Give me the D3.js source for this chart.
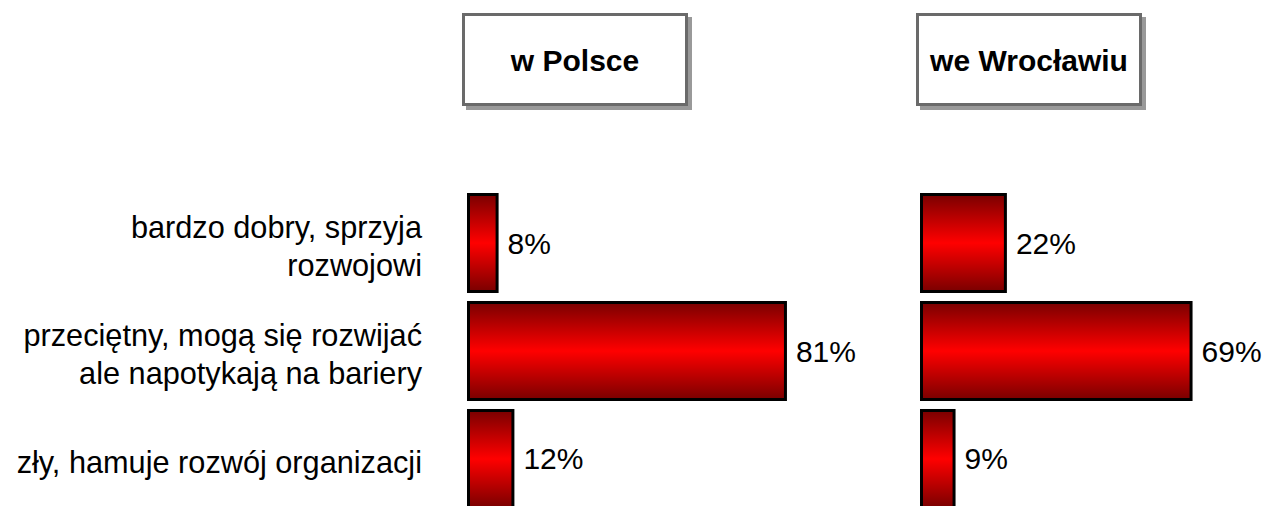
<!DOCTYPE html>
<html lang="pl">
<head>
<meta charset="utf-8">
<title>Klimat dla organizacji</title>
<script src="https://cdn.jsdelivr.net/npm/d3@7"></script>
<style>
  body { margin: 0; background: #fff; }
  text { font-family: "Liberation Sans", Arial, sans-serif; fill: #000; }
  .cat { font-size: 30.7px; text-anchor: end; }
  .val { font-size: 30px; }
  .title { font-size: 30px; font-weight: bold; text-anchor: middle; }
</style>
</head>
<body>
<script>
// dane
var categories = [
  ["bardzo dobry, sprzyja", "rozwojowi"],
  ["przeciętny, mogą się rozwijać", "ale napotykają na bariery"],
  ["zły, hamuje rozwój organizacji"]
];
var polskaValues = [8, 81, 12];
var wroclawValues = [22, 69, 9];
var panelTitles = ["w Polsce", "we Wrocławiu"];

var w = 1264, h = 506;

var svg = d3.select("body").append("svg")
  .attr("width", w)
  .attr("height", h);

var defs = svg.append("defs");
var grad = defs.append("linearGradient")
  .attr("id", "redGrad")
  .attr("x1", 0).attr("y1", 0).attr("x2", 0).attr("y2", 1);
grad.append("stop").attr("offset", "0%").attr("stop-color", "#7a0000");
grad.append("stop").attr("offset", "50%").attr("stop-color", "#ff0000");
grad.append("stop").attr("offset", "100%").attr("stop-color", "#7a0000");

var yScale = d3.scaleBand()
  .domain(d3.range(categories.length))
  .range([193, 509])
  .paddingInner(0.074);

var xScale = d3.scaleLinear()
  .domain([0, 100])
  .range([0, 395]);

// etykiety kategorii
var catG = svg.append("g");
categories.forEach(function(lines, i) {
  var cy = yScale(i) + yScale.bandwidth() / 2;
  var lh = 38;
  var t = catG.append("text")
    .attr("class", "cat")
    .attr("x", 422)
    .attr("y", cy - (lines.length - 1) * lh / 2 + 14);
  lines.forEach(function(l, j) {
    t.append("tspan")
      .attr("x", 422)
      .attr("dy", j === 0 ? 0 : lh)
      .text(l);
  });
});

var panels = [
  { title: panelTitles[0], data: polskaValues, x0: 467, box: 462 },
  { title: panelTitles[1], data: wroclawValues, x0: 920, box: 916 }
];

panels.forEach(function(p) {
  // ramka tytułu
  var bw = 226, bh = 93, by = 13;
  svg.append("rect")
    .attr("x", p.box + 4).attr("y", by + 4)
    .attr("width", bw).attr("height", bh)
    .attr("fill", "#999");
  svg.append("rect")
    .attr("x", p.box + 1.5).attr("y", by + 1.5)
    .attr("width", bw - 3).attr("height", bh - 3)
    .attr("fill", "#fff")
    .attr("stroke", "#6a6a6a")
    .attr("stroke-width", 3);
  svg.append("text")
    .attr("class", "title")
    .attr("x", p.box + bw / 2)
    .attr("y", 71)
    .text(p.title);

  var g = svg.append("g")
    .attr("transform", "translate(" + p.x0 + ",0)");

  g.selectAll("rect")
    .data(p.data)
    .enter()
    .append("rect")
    .attr("x", 1.5)
    .attr("y", function(d, i) { return yScale(i) + 1.5; })
    .attr("width", function(d) { return xScale(d) - 3; })
    .attr("height", yScale.bandwidth() - 3)
    .attr("fill", "url(#redGrad)")
    .attr("stroke", "#000")
    .attr("stroke-width", 3);

  g.selectAll("text")
    .data(p.data)
    .enter()
    .append("text")
    .attr("class", "val")
    .attr("x", function(d) { return xScale(d) + 9; })
    .attr("y", function(d, i) { return yScale(i) + yScale.bandwidth() / 2; })
    .attr("dy", "0.35em")
    .text(function(d) { return d + "%"; });
});
</script>
</body>
</html>
